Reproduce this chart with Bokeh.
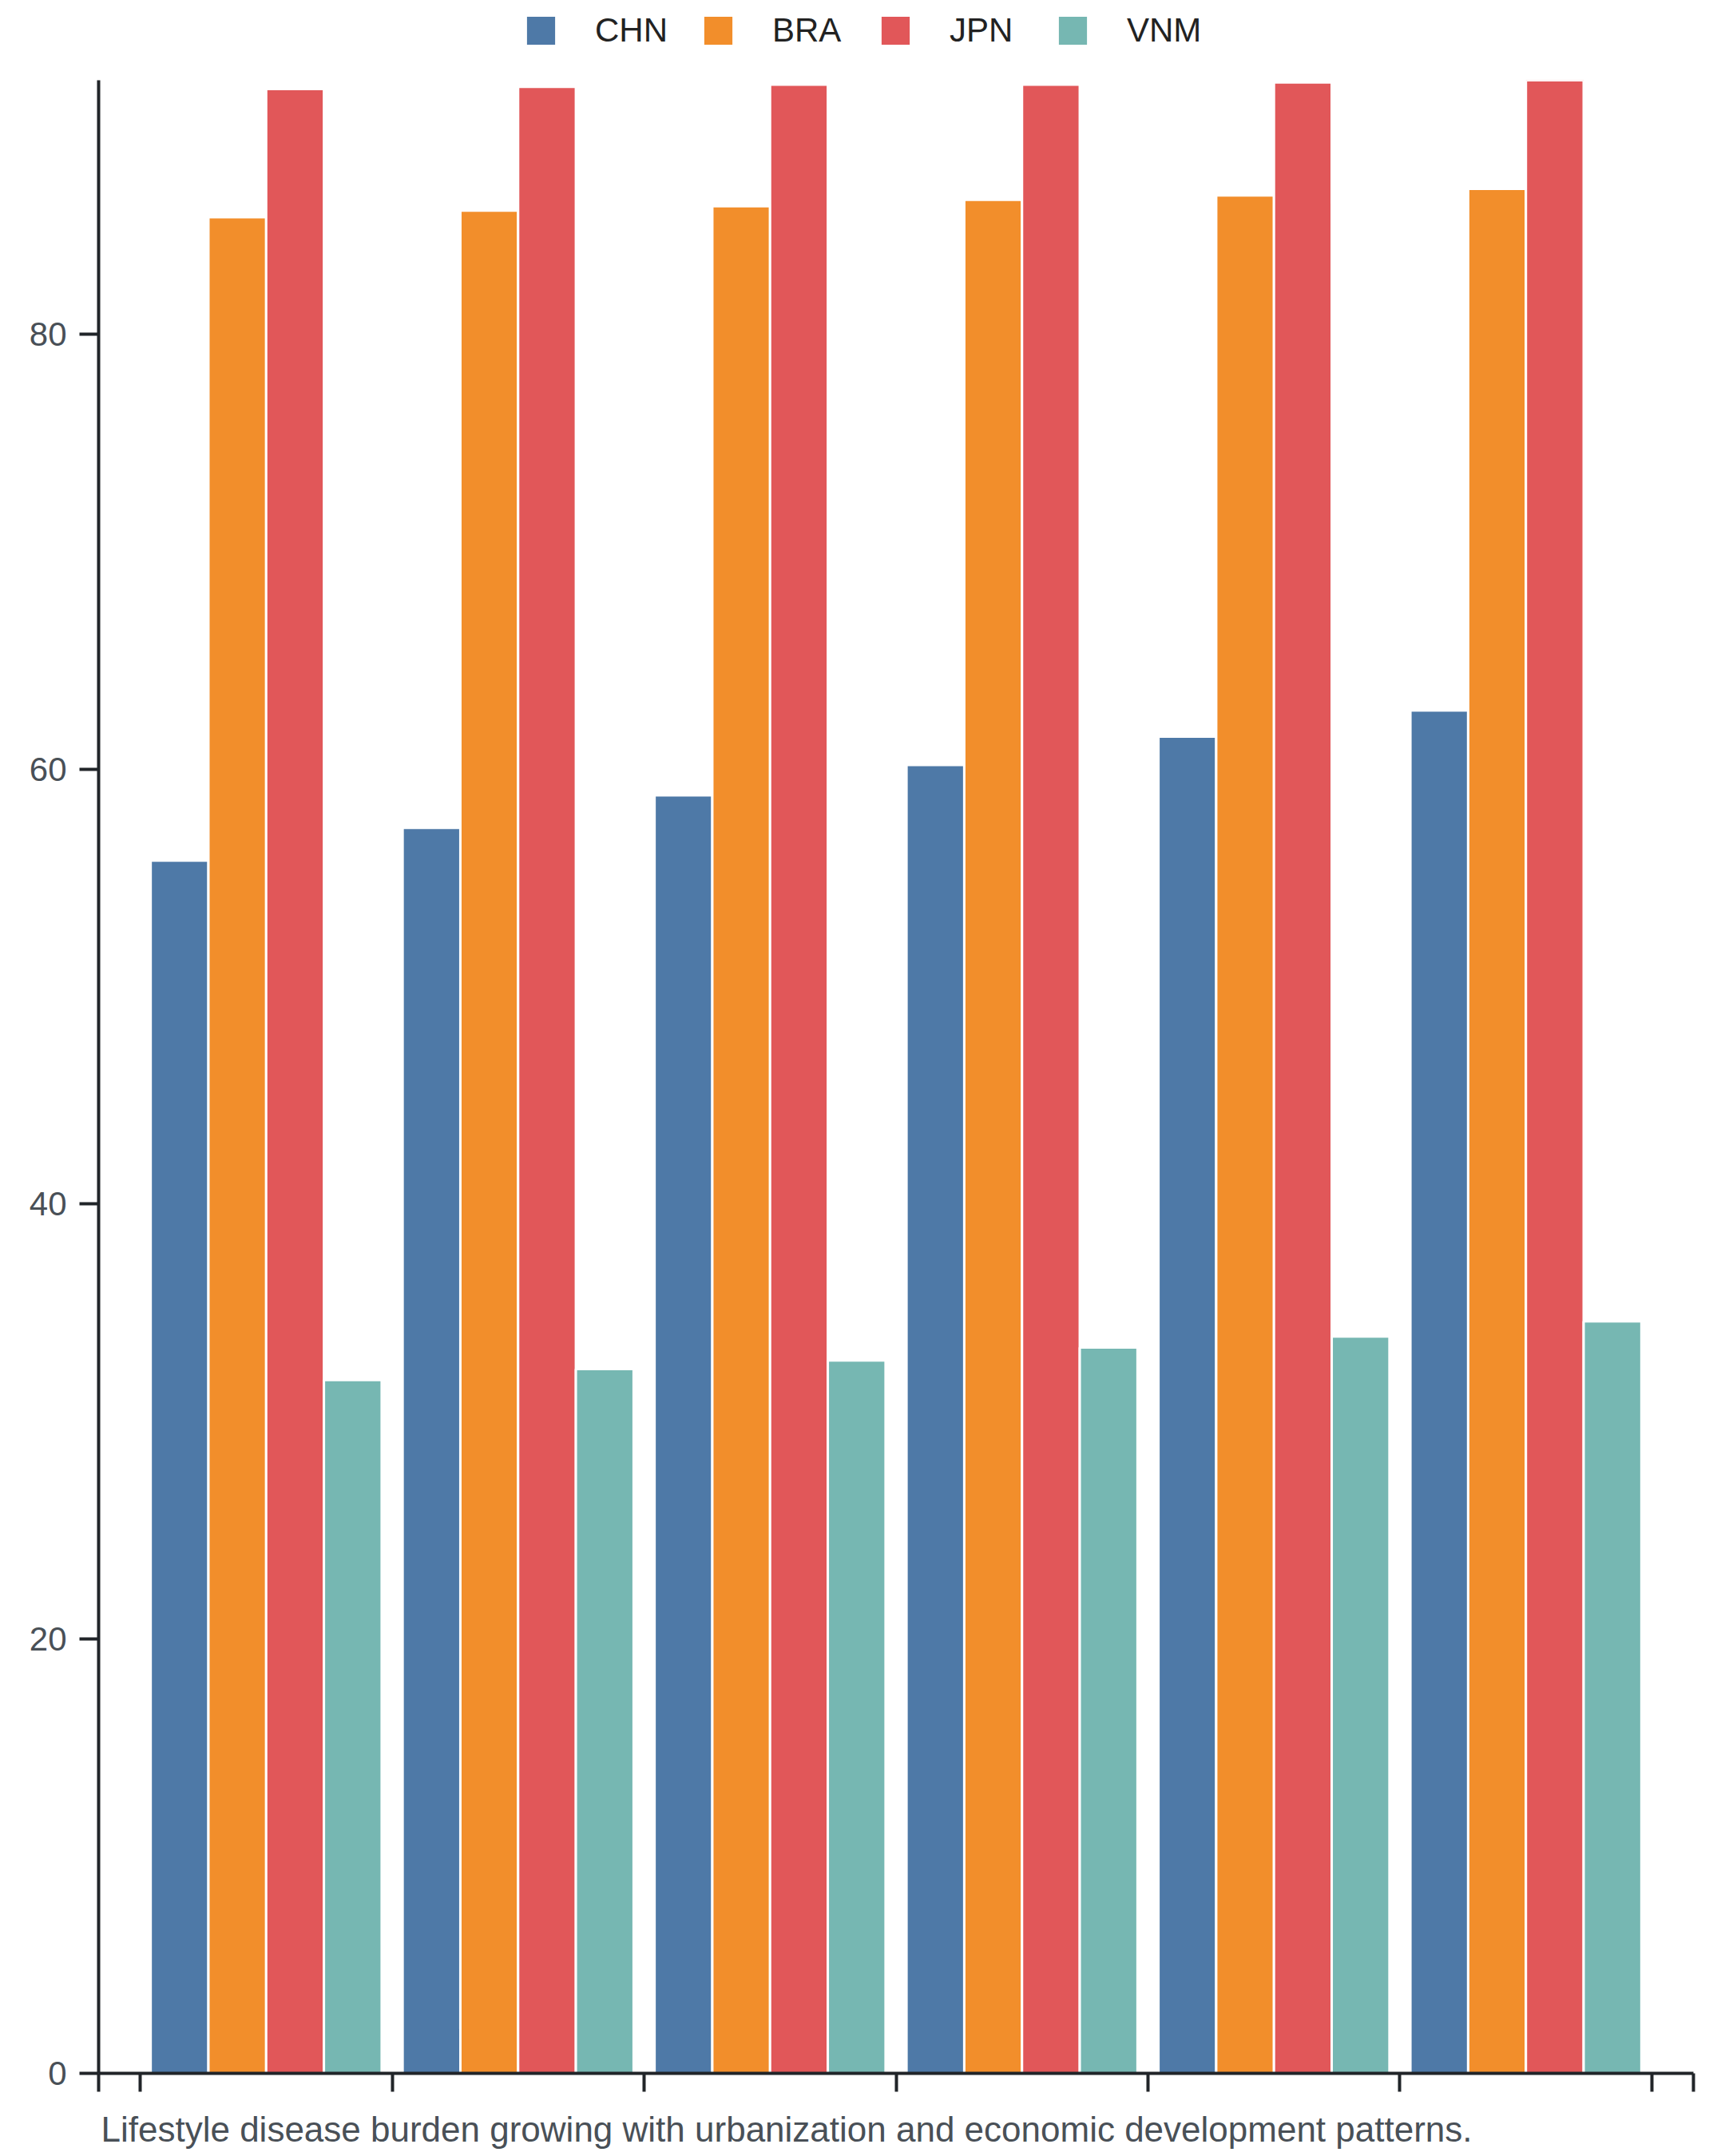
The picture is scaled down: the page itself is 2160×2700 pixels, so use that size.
from bokeh.plotting import figure
from bokeh.layouts import column
from bokeh.models import (Range1d, FixedTicker, Legend, LegendItem, Label,
                          ColumnDataSource, CustomJSTickFormatter)
from bokeh.transform import dodge
from bokeh.embed import file_html
from bokeh.resources import INLINE

# ---- data ----
groups = [0, 1, 2, 3, 4, 5]          # six unlabelled periods
countries = ["CHN", "BRA", "JPN", "VNM"]
chn = [55.8, 57.3, 58.8, 60.2, 61.5, 62.7]
bra = [85.4, 85.7, 85.9, 86.2, 86.4, 86.7]
jpn = [91.3, 91.4, 91.5, 91.5, 91.6, 91.7]
vnm = [31.9, 32.4, 32.8, 33.4, 33.9, 34.6]
y_ticks = [0, 20, 40, 60, 80]
caption = "Lifestyle disease burden growing with urbanization and economic development patterns."

colors = ["#4e79a7", "#f28e2b", "#e15759", "#76b7b2"]

FONT = "Liberation Sans"
AXIS = "#212529"
TXT = "#495057"
W = 2160
LEFT, RIGHT = 123, 40


def blank(fig):
    fig.outline_line_color = None
    fig.xgrid.visible = False
    fig.ygrid.visible = False
    fig.background_fill_color = "white"
    fig.border_fill_color = "white"


# ---- legend strip ----
lg = figure(width=W, height=92, output_backend="svg", toolbar_location=None,
            x_range=Range1d(0, 1), y_range=Range1d(0, 1),
            min_border_left=LEFT, min_border_right=RIGHT,
            min_border_top=0, min_border_bottom=0,
            x_axis_type=None, y_axis_type=None)
blank(lg)
items = []
for name, col in zip(countries, colors):
    # legend swatch only: a zero-height bar that draws nothing
    r = lg.vbar(x=[0.5], bottom=[0], top=[0], width=0.01, fill_color=col,
                line_color=None)
    items.append(LegendItem(label=name, renderers=[r]))
legend = Legend(items=items, orientation="horizontal", location=(532, 30),
                glyph_width=44, glyph_height=44, label_standoff=46,
                label_width=132, spacing=0, padding=0, margin=0,
                border_line_color=None, background_fill_alpha=0,
                label_text_font=FONT, label_text_font_size="42px",
                label_text_color="#222222")
lg.add_layout(legend, "center")

# ---- main chart ----
src = ColumnDataSource(dict(g=groups, CHN=chn, BRA=bra, JPN=jpn, VNM=vnm))

p = figure(width=W, height=2530, output_backend="svg", toolbar_location=None,
           x_range=Range1d(-0.665, 5.665), y_range=Range1d(0, max(jpn)),
           min_border_left=LEFT, min_border_right=RIGHT, min_border_top=8,
           min_border_bottom=26)
blank(p)

bw = 0.2292
offsets = [-1.5 * bw, -0.5 * bw, 0.5 * bw, 1.5 * bw]
for name, col, off in zip(countries, colors, offsets):
    p.vbar(x=dodge("g", off), top=name, width=bw, bottom=0, source=src,
           fill_color=col, line_color="white", line_width=3)

ya = p.yaxis[0]
ya.ticker = FixedTicker(ticks=y_ticks)
ya.minor_tick_line_color = None
ya.axis_line_color = AXIS
ya.axis_line_width = 4
ya.major_tick_line_color = AXIS
ya.major_tick_line_width = 4
ya.major_tick_out = 24
ya.major_tick_in = 0
ya.major_label_standoff = 16
ya.major_label_text_font = FONT
ya.major_label_text_font_size = "42px"
ya.major_label_text_color = TXT

xa = p.xaxis[0]
xa.ticker = FixedTicker(ticks=[-0.665, -0.5, 0.5, 1.5, 2.5, 3.5, 4.5, 5.5, 5.665])
xa.formatter = CustomJSTickFormatter(code="return ''")
xa.minor_tick_line_color = None
xa.axis_line_color = AXIS
xa.axis_line_width = 4
xa.major_tick_line_color = AXIS
xa.major_tick_line_width = 4
xa.major_tick_out = 23
xa.major_tick_in = 0
xa.major_label_standoff = 0
xa.major_label_text_font_size = "1px"

# ---- caption strip ----
cp = figure(width=W, height=78, output_backend="svg", toolbar_location=None,
            x_range=Range1d(0, 1), y_range=Range1d(0, 1),
            min_border_left=LEFT, min_border_right=RIGHT,
            min_border_top=0, min_border_bottom=0,
            x_axis_type=None, y_axis_type=None)
blank(cp)
cp.add_layout(Label(x=3, y=34, x_units="screen", y_units="screen",
                    text=caption, text_font=FONT, text_font_size="44px",
                    text_color=TXT, text_baseline="alphabetic"))

layout = column(lg, p, cp, spacing=0)
open("out.html", "w").write(file_html(layout, INLINE))
